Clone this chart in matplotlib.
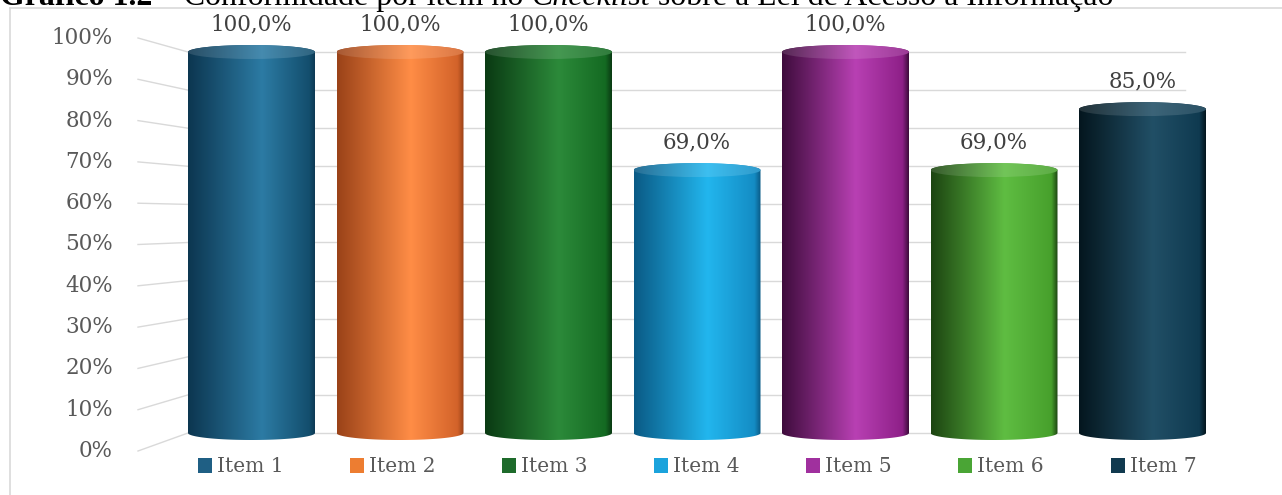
import numpy as np
import matplotlib
matplotlib.use('Agg')
import matplotlib.pyplot as plt
from matplotlib.path import Path
from matplotlib.patches import PathPatch, Patch, Ellipse
from matplotlib.colors import LinearSegmentedColormap, to_rgb
from matplotlib.lines import Line2D

# ---------------- data ----------------
items = ["Item 1", "Item 2", "Item 3", "Item 4", "Item 5", "Item 6", "Item 7"]
values = [100.0, 100.0, 100.0, 69.0, 100.0, 69.0, 85.0]
legend_colors = ["#1f5f84", "#ed7d31", "#1e6b2b", "#1ba3dc", "#a0309e", "#4aa535", "#113a4f"]
grad_left = ["#0c3650", "#9a4218", "#0a3a13", "#0a5a85", "#3e0c3c", "#1c4411", "#04161e"]
grad_light = ["#2c7ba4", "#ff8d46", "#2c8a3a", "#22b6ee", "#b840b3", "#5fbd42", "#214f66"]
grad_right = ["#134e6d", "#d3632a", "#146a22", "#148cc4", "#8e2088", "#47a02c", "#0f3a50"]
y_ticks = list(range(0, 101, 10))
title_parts = [("Gráfico 1.2", "normal", "bold"),
               ("– Conformidade por item no", "normal", "normal"),
               ("Checklist", "italic", "normal"),
               ("sobre a Lei de Acesso à Informação", "normal", "normal")]

# ---------------- layout ----------------
W, H = 1282, 495
fig = plt.figure(figsize=(W / 100, H / 100), dpi=100)
ax = fig.add_axes([0, 0, 1, 1])
ax.axis('off')

X0_PX, DX_PX, Y0_PX, DY_PX = 251.5, 148.5, 433.0, 3.81


def xd(px):
    return (px - X0_PX) / DX_PX


def yd(py):
    return (Y0_PX - py) / DY_PX


xlim = (xd(0), xd(W))
ylim = (yd(H), yd(0))

grid_c = "#d9d9d9"
wall_left = xd(188)
wall_right = xd(1185)
lab_end = xd(138)
lab_x = xd(113)
serif = "DejaVu Serif"

# back-wall gridlines and side-wall diagonals + tick labels
for v in y_ticks:
    ax.plot([wall_left, wall_right], [v, v], color=grid_c, lw=1, zorder=1)
    ly = yd(451 - v * 4.13)
    ax.plot([lab_end, wall_left], [ly, v], color=grid_c, lw=1, zorder=1)
    ax.text(lab_x, ly, f"{v}%", ha='right', va='center', color="#595959",
            fontsize=15.5, family=serif, zorder=2)

# cylinders
w = 127 / DX_PX
eh = 7 / DY_PX
grad = np.linspace(0, 1, 256).reshape(1, -1)
for i, v in enumerate(values):
    cmap = LinearSegmentedColormap.from_list(
        f"c{i}", [(0, grad_left[i]), (0.58, grad_light[i]), (0.95, grad_right[i]), (1.0, grad_left[i])])
    t_top = np.linspace(np.pi, 0, 60)
    t_bot = np.linspace(0, -np.pi, 60)
    pts = np.vstack([
        np.column_stack([i + w / 2 * np.cos(t_top), v + eh * np.sin(t_top)]),
        np.column_stack([i + w / 2 * np.cos(t_bot), 0 + eh * np.sin(t_bot)]),
    ])
    pts = np.vstack([pts, pts[:1]])
    path = Path(pts, closed=True)
    body = PathPatch(path, transform=ax.transData, facecolor='none', edgecolor='none')
    ax.add_patch(body)
    im = ax.imshow(grad, cmap=cmap, extent=(i - w / 2, i + w / 2, -eh, v + eh),
                   aspect='auto', origin='lower', interpolation='bilinear', zorder=3)
    im.set_clip_path(body)
    # top face, slightly lighter
    lc = [tuple(0.88 * np.array(to_rgb(c)) + 0.12) for c in (grad_left[i], grad_light[i], grad_right[i])]
    cmap_top = LinearSegmentedColormap.from_list(f"t{i}", [(0, lc[0]), (0.58, lc[1]), (1, lc[2])])
    top = Ellipse((i, v), w, 2 * eh, transform=ax.transData, facecolor='none', edgecolor='none')
    ax.add_patch(top)
    im2 = ax.imshow(grad, cmap=cmap_top, extent=(i - w / 2, i + w / 2, v - eh, v + eh),
                    aspect='auto', origin='lower', interpolation='bilinear', zorder=4)
    im2.set_clip_path(top)
    # data label
    ax.annotate(f"{v:.1f}%".replace('.', ','), xy=(i, v), xytext=(0, 20),
                textcoords='offset points', ha='center', va='center',
                color="#404040", fontsize=15.5, family=serif, zorder=5)

ax.set_xlim(*xlim)
ax.set_ylim(*ylim)

# legend
handles = [Patch(facecolor=c, edgecolor='none') for c in legend_colors]
fig.legend(handles, items, ncol=7, loc='center', bbox_to_anchor=(697 / W, 1 - 467 / H),
           frameon=False, prop={'family': serif, 'size': 14.5}, labelcolor="#595959",
           handlelength=0.7, handleheight=0.7, handletextpad=0.25, columnspacing=3.3)

# chart frame (top and left edges visible)
fig.add_artist(Line2D([10 / W, 10 / W], [0, 1 - 8 / H], transform=fig.transFigure, color=grid_c, lw=1.2))
fig.add_artist(Line2D([10 / W, 1], [1 - 8 / H, 1 - 8 / H], transform=fig.transFigure, color=grid_c, lw=1.2))

# title, partially cut at the top
renderer = fig.canvas.get_renderer()
target_w = 1115


def draw_title(fs):
    x = 0
    objs = []
    bb = None
    for s, style, weight in title_parts:
        t = fig.text(x / W, 1 - 5 / H, s, fontsize=fs, family="Liberation Serif", style=style,
                     weight=weight, va='baseline', ha='left', color='black')
        bb = t.get_window_extent(renderer)
        x = bb.x1 + fs * 1.389 * 0.25
        objs.append(t)
    return objs, bb.x1


fs = 20
objs, right = draw_title(fs)
for o in objs:
    o.remove()
fs = fs * target_w / right
draw_title(fs)

fig.savefig("out.png", dpi=100)
